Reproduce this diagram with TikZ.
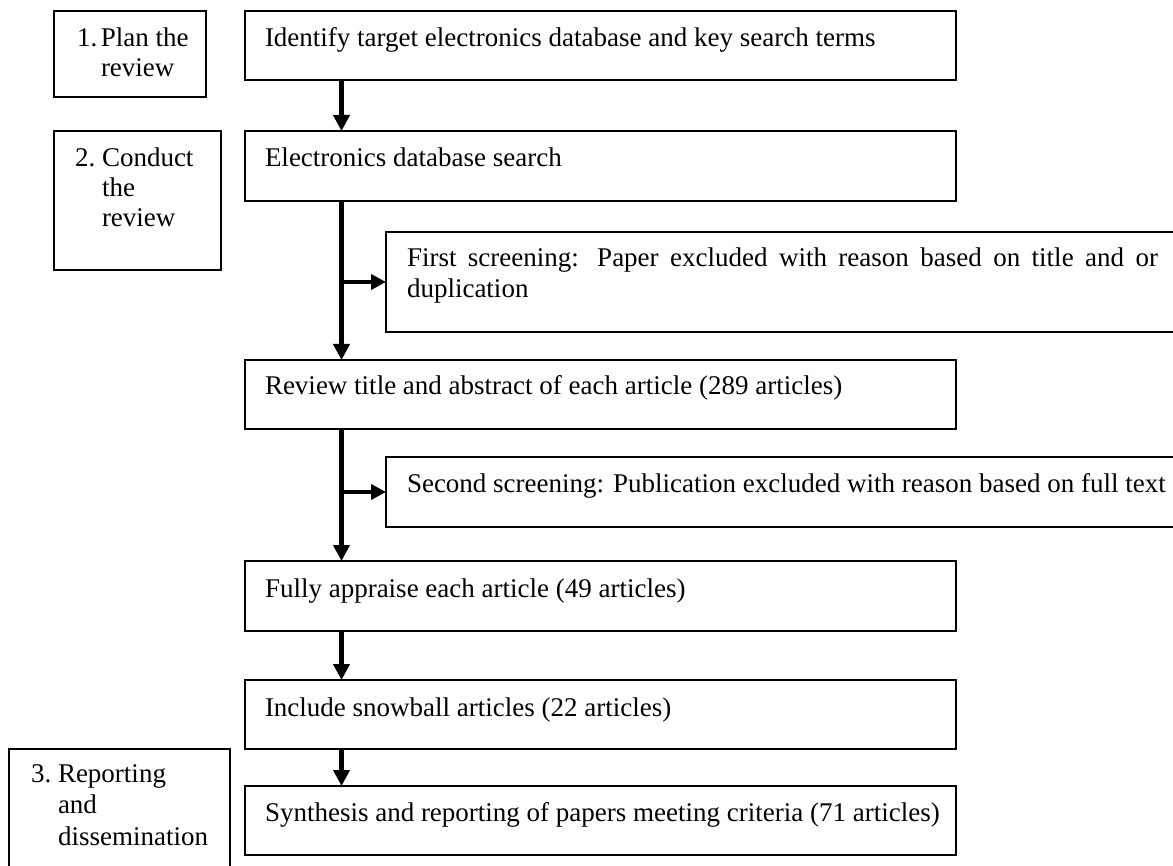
\documentclass[tikz,border=0pt]{standalone}
\usepackage{fontspec}
\setmainfont{Liberation Serif}
\usetikzlibrary{arrows.meta,calc}

\begin{document}
\begin{tikzpicture}[x=1pt,y=-1pt,
  box/.style={draw=black, line width=1.3pt, inner sep=0pt, outer sep=0pt,
              anchor=north west, rectangle},
  txt/.style={anchor=base west, inner sep=0pt, outer sep=0pt,
              font=\fontsize{27}{31}\selectfont},
  stagetxt/.style={anchor=base west, inner sep=0pt, outer sep=0pt,
              font=\fontsize{27}{30}\selectfont},
  arr/.style={line width=4.5pt, -{Triangle[width=16pt,length=16pt]}},
  branch/.style={line width=4.5pt, -{Triangle[width=15pt,length=15pt]}}]

\useasboundingbox (0,0) rectangle (1173,866);

% stage boxes on the left
\node[box, minimum width=152pt, minimum height=86pt] (stage1) at (54,11) {};
\node[stagetxt] (stage1t) at (77,47)
  {\begin{tabular}[t]{@{}l@{}l@{}}\makebox[24pt][l]{1.}&Plan the\\&review\end{tabular}};

\node[box, minimum width=167pt, minimum height=139pt] (stage2) at (54,131) {};
\node[stagetxt] (stage2t) at (75,167)
  {\begin{tabular}[t]{@{}l@{}l@{}}\makebox[27pt][l]{2.}&Conduct\\&the\\&review\end{tabular}};

\node[box, minimum width=221pt, minimum height=140pt] (stage3) at (9,749) {};
\node[stagetxt, font=\fontsize{27}{31.5}\selectfont] (stage3t) at (31,782)
  {\begin{tabular}[t]{@{}l@{}l@{}}\makebox[27pt][l]{3.}&Reporting\\&and\\&dissemination\end{tabular}};

% main process boxes
\node[box, minimum width=711pt, minimum height=69pt] (b1) at (245,11) {};
\node[txt] (b1t) at (265,47) {Identify target electronics database and key search terms};

\node[box, minimum width=711pt, minimum height=70pt] (b2) at (245,131) {};
\node[txt] (b2t) at (265,167) {Electronics database search};

\node[box, minimum width=820pt, minimum height=100pt] (s1) at (386,232) {};
\node[txt] (s1t) at (407,267)
  {\begin{tabular}[t]{@{}l@{}}\makebox[751pt][s]{First screening: Paper excluded with reason based on title and or}\\duplication\end{tabular}};

\node[box, minimum width=711pt, minimum height=69pt] (b3) at (245,360) {};
\node[txt] (b3t) at (265,395) {Review title and abstract of each article (289 articles)};

\node[box, minimum width=820pt, minimum height=70pt] (s2) at (386,457) {};
\node[txt] (s2t) at (407,492) {Second screening: Publication excluded with reason based on full text};

\node[box, minimum width=711pt, minimum height=70pt] (b4) at (245,561) {};
\node[txt] (b4t) at (265,597) {Fully appraise each article (49 articles)};

\node[box, minimum width=711pt, minimum height=69pt] (b5) at (245,680) {};
\node[txt] (b5t) at (265,716) {Include snowball articles (22 articles)};

\node[box, minimum width=711pt, minimum height=69pt] (b6) at (245,786) {};
\node[txt] (b6t) at (265,821) {Synthesis and reporting of papers meeting criteria (71 articles)};

% flow connectors along the trunk
\coordinate (tx) at (341.5,0);
\draw[arr] (b1.south -| tx) -- (b2.north -| tx);
\draw[arr] (b2.south -| tx) -- (b3.north -| tx);
\draw[branch] (tx |- s1.west) -- (s1.west);
\draw[arr] (b3.south -| tx) -- (b4.north -| tx);
\draw[branch] (tx |- s2.west) -- (s2.west);
\draw[arr] (b4.south -| tx) -- (b5.north -| tx);
\draw[arr] (b5.south -| tx) -- (b6.north -| tx);

\end{tikzpicture}
\end{document}
